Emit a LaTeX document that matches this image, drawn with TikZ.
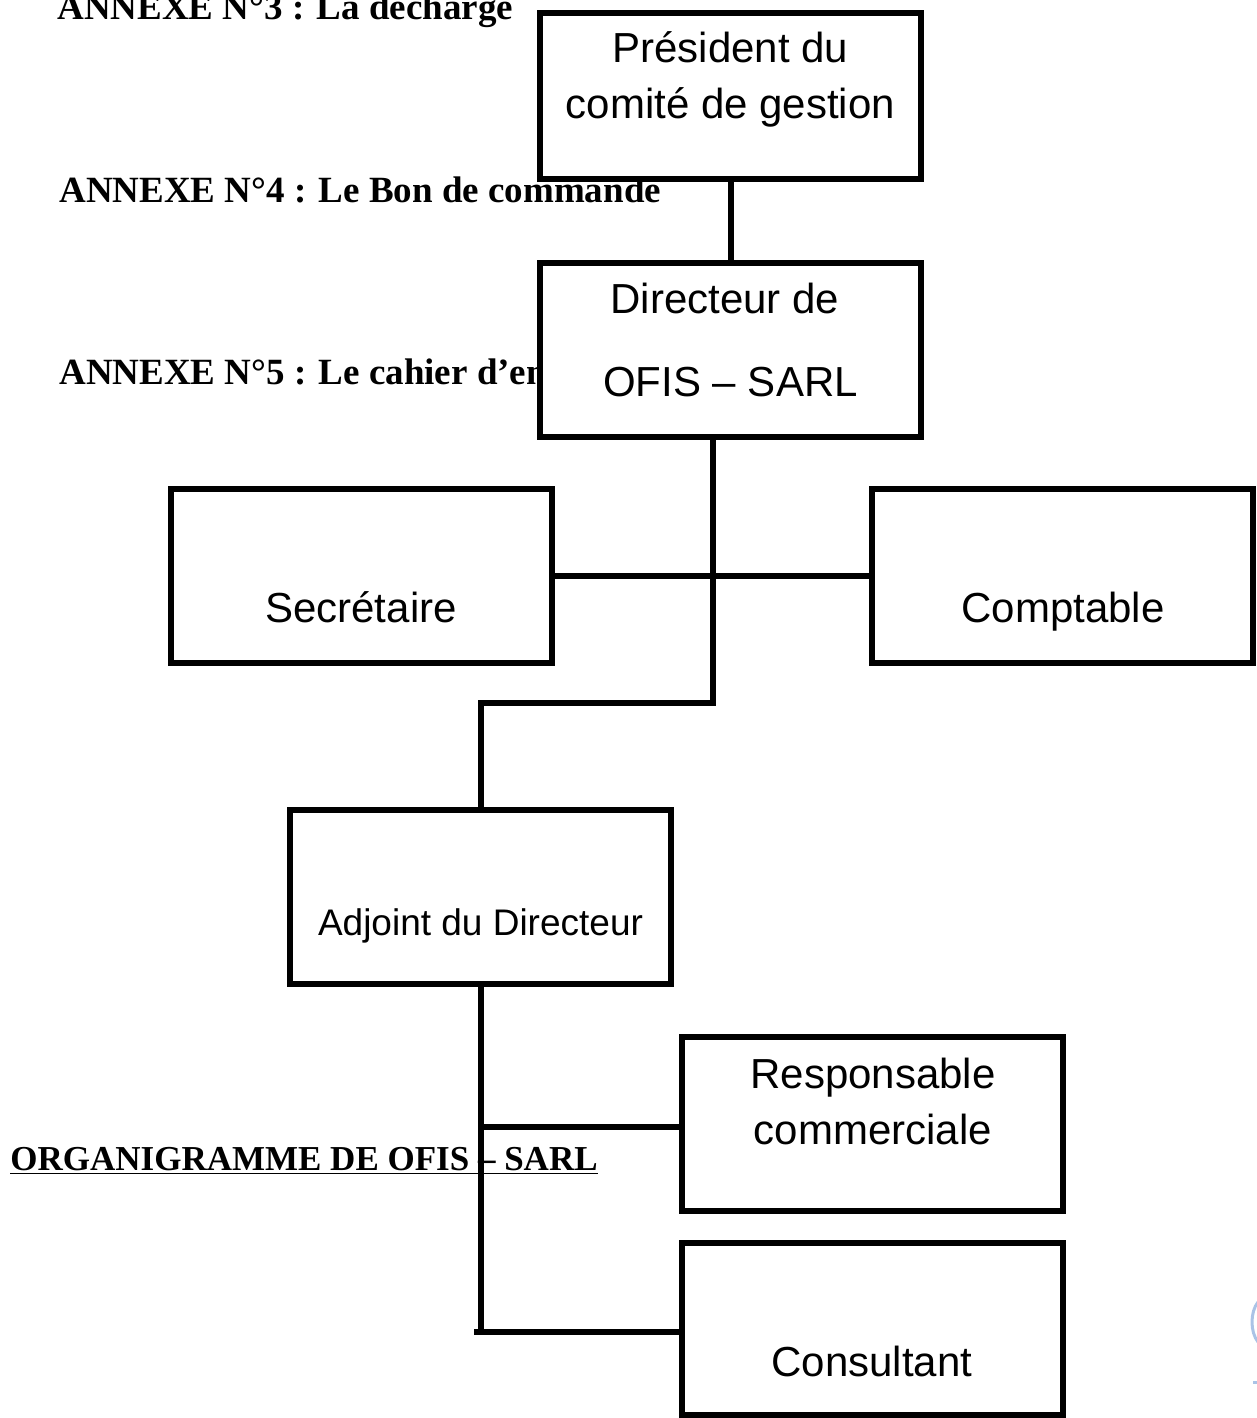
\documentclass[tikz,border=0pt]{standalone}
\usepackage{fontspec}
\setmainfont{Liberation Sans}
\newfontfamily\annexfont{Liberation Serif}
\usetikzlibrary{positioning}

\tikzset{
  orgbox/.style={draw, line width=3pt, fill=white, outer sep=0pt, inner sep=0pt,
                 minimum width=190.5pt, minimum height=87pt},
  boxtext/.style={anchor=base, inner sep=0pt, font=\fontsize{21}{25}\selectfont},
  annexe/.style={anchor=base west, inner sep=0pt, font=\annexfont\bfseries\fontsize{18.5}{22}\selectfont},
  link/.style={line width=3pt}
}

\begin{document}
\begin{tikzpicture}[x=0.5pt,y=-0.5pt]
\useasboundingbox (0,0) rectangle (1257,1418);

% Annex titles (under the boxes)
\node[annexe] (an3) at (57,20) {ANNEXE N°3 : La decharge};
\node[annexe] (an4) at (59,202) {ANNEXE N°4 : Le Bon de commande};
\node[annexe] (an5) at (59,384) {ANNEXE N°5 : Le cahier d’en};
\node[annexe, font=\annexfont\bfseries\fontsize{17.5}{21}\selectfont] (title) at (10,1170) {\underline{ORGANIGRAMME DE OFIS – SARL}};

% Boxes
\node[orgbox, minimum height=83pt] (pres) at (730.5,96) {};
\node[orgbox] (dir) at (730.5,350) {};
\node[orgbox] (secr) at (361,576) {};
\node[orgbox] (compt) at (1062.5,576) {};
\node[orgbox] (adj) at (480.5,896.5) {};
\node[orgbox] (resp) at (872.5,1124) {};
\node[orgbox, minimum height=86pt] (cons) at (872,1329) {};

% Box texts
\node[boxtext] (pres1) at (730.5,63) {Président du};
\node[boxtext] (pres2) at (730.5,119) {comité de gestion};
\node[boxtext] (dir1) at (725,313) {Directeur de};
\node[boxtext] (dir2) at (730.5,396) {OFIS – SARL};
\node[boxtext] (secrt) at (361,622) {Secrétaire};
\node[boxtext] (comptt) at (1063,622) {Comptable};
\node[boxtext, font=\fontsize{18.5}{22}\selectfont] (adjt) at (480.5,935) {Adjoint du Directeur};
\node[boxtext] (resp1) at (873,1088) {Responsable};
\node[boxtext] (resp2) at (873,1144) {commerciale};
\node[boxtext] (const) at (872,1376) {Consultant};

% Connectors
\coordinate (bend) at (713,703);
\coordinate (rjoin) at (481,1127);
\coordinate (cend) at (474,1332);
\draw[link] (pres.south) -- (dir.north);
\draw[link] (dir.south -| bend) -- (bend) -| (adj.north);
\draw[link] (secr.east) -- (compt.west);
\draw[link] (adj.south) -- ([yshift=-1.5pt]adj.south |- cend);
\draw[link] (rjoin) -- (rjoin -| resp.west);
\draw[link] (cend) -- (cend -| cons.west);

% Scan remnant at the right edge
\draw[color={rgb,255:red,170;green,195;blue,230}, line width=1.5pt]
  (1258,1302) .. controls (1250,1312) and (1250,1332) .. (1258,1342);
\draw[color={rgb,255:red,170;green,195;blue,230}, line width=1.5pt] (1253,1382) -- (1257,1382);

\end{tikzpicture}
\end{document}
